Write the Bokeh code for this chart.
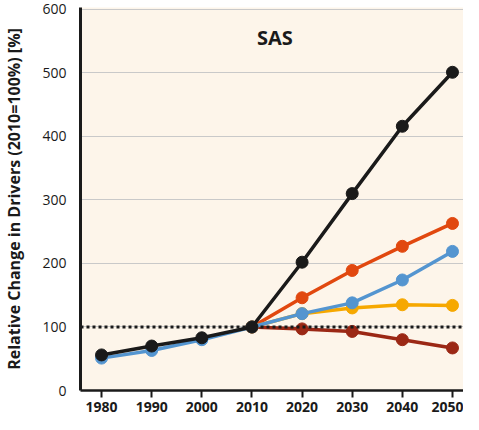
from bokeh.plotting import figure
from bokeh.models import Span, Label, FixedTicker, Range1d
from bokeh.embed import file_html
from bokeh.resources import INLINE

years_hist = [1980, 1990, 2000, 2010]
years_proj = [2010, 2020, 2030, 2040, 2050]
years_all = [1980, 1990, 2000, 2010, 2020, 2030, 2040, 2050]

black_vals = [56, 70, 83, 100, 202, 310, 416, 501]
blue_vals = [51, 63, 80, 100, 121, 138, 174, 219]
orange_vals = [100, 146, 189, 227, 263]
yellow_vals = [100, 121, 130, 135, 134]
darkred_vals = [100, 97, 93, 80, 67]

x_ticks = [1980, 1990, 2000, 2010, 2020, 2030, 2040, 2050]
y_ticks = [0, 100, 200, 300, 400, 500, 600]

FONT = "Open Sans"

p = figure(width=463, height=414, output_backend="svg", toolbar_location=None,
           x_range=Range1d(1975.8, 2052.2), y_range=Range1d(0, 603),
           min_border_left=72, min_border_right=0, min_border_top=7)
p.outline_line_color = None
p.background_fill_color = "#fdf5ea"
p.border_fill_color = "white"

p.xgrid.grid_line_color = None
p.ygrid.grid_line_color = "#c9c9c9"
p.ygrid.grid_line_width = 1.2

p.xaxis.ticker = FixedTicker(ticks=x_ticks)
p.yaxis.ticker = FixedTicker(ticks=y_ticks)
p.xaxis.minor_tick_line_color = None
p.yaxis.minor_tick_line_color = None
p.yaxis.major_tick_line_color = None
p.xaxis.major_tick_in = 0
p.xaxis.major_tick_out = 7
p.xaxis.major_tick_line_width = 2
p.xaxis.major_tick_line_color = "#1a1a1a"
p.xaxis.axis_line_width = 2.5
p.xaxis.axis_line_color = "#1a1a1a"
p.yaxis.axis_line_width = 3
p.yaxis.axis_line_color = "#1a1a1a"

p.xaxis.major_label_text_font = FONT
p.xaxis.major_label_text_font_style = "bold"
p.xaxis.major_label_text_font_size = "14px"
p.xaxis.major_label_text_color = "#1a1a1a"
p.xaxis.major_label_standoff = 4

p.yaxis.major_label_text_font = FONT
p.yaxis.major_label_text_font_size = "14px"
p.yaxis.major_label_text_color = "#1a1a1a"
p.yaxis.major_label_standoff = 8

p.yaxis.axis_label = "Relative Change in Drivers (2010=100%) [%]"
p.yaxis.axis_label_text_font = FONT
p.yaxis.axis_label_text_font_style = "bold"
p.yaxis.axis_label_text_font_size = "16px"
p.yaxis.axis_label_text_color = "#1a1a1a"
p.yaxis.axis_label_standoff = 14

p.add_layout(Span(location=100, dimension="width", line_color="#1a1a1a",
                  line_width=3, line_dash="3 3"))

series = [
    (years_proj, darkred_vals, "#9b2815"),
    (years_proj, orange_vals, "#e1480f"),
    (years_proj, yellow_vals, "#f6a800"),
    (years_all, blue_vals, "#5495d0"),
    (years_all, black_vals, "#1a1a1a"),
]
for xs, ys, c in series:
    p.line(xs, ys, line_color=c, line_width=3.5)
    p.scatter(xs, ys, size=12, fill_color=c, line_color=c)

p.add_layout(Label(x=2011, y=555, text="SAS", text_font=FONT, text_font_style="bold",
                   text_font_size="20px", text_color="#1a1a1a", text_baseline="middle"))

open("out.html", "w").write(file_html(p, INLINE))
